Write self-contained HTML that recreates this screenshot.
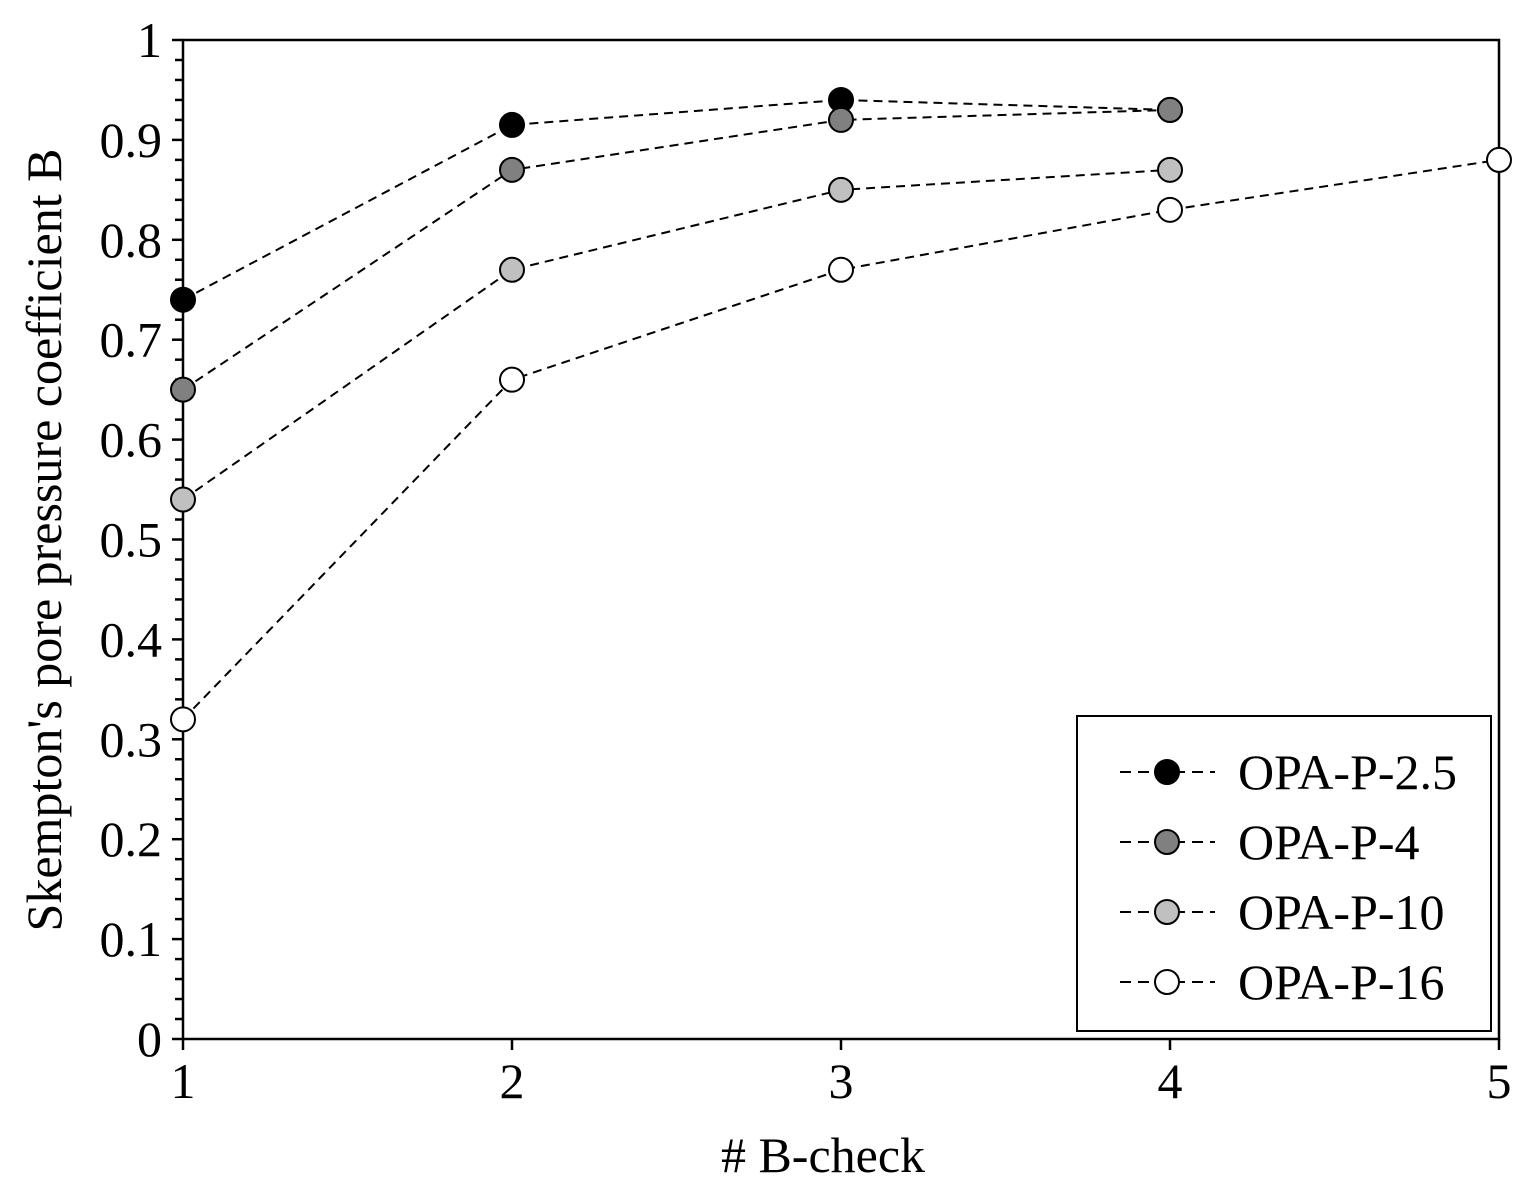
<!DOCTYPE html>
<html><head><meta charset="utf-8"><style>
body{margin:0;background:#fff}
svg text{font-family:"Liberation Serif",serif;fill:#000}
</style></head><body>
<svg id="c" width="1532" height="1195" xmlns="http://www.w3.org/2000/svg"></svg>
<script>
const xCats=[1,2,3,4,5];
const yTicks=[0,0.1,0.2,0.3,0.4,0.5,0.6,0.7,0.8,0.9,1];
const yTickLabels=["0","0.1","0.2","0.3","0.4","0.5","0.6","0.7","0.8","0.9","1"];
const seriesNames=["OPA-P-2.5","OPA-P-4","OPA-P-10","OPA-P-16"];
const s25x=[1,2,3,4], s25y=[0.74,0.915,0.94,0.93];
const s4x=[1,2,3,4], s4y=[0.65,0.87,0.92,0.93];
const s10x=[1,2,3,4], s10y=[0.54,0.77,0.85,0.87];
const s16x=[1,2,3,4,5], s16y=[0.32,0.66,0.77,0.83,0.88];
const fills=["#000","#808080","#c0c0c0","#fff"];
const X=v=>183+(v-1)*329, Y=v=>1039-v*999;
const svg=document.getElementById('c');
const NS="http://www.w3.org/2000/svg";
function mk(t,a,p){const e=document.createElementNS(NS,t);for(const k in a)e.setAttribute(k,a[k]);(p||svg).appendChild(e);return e;}
const fr=mk('rect',{x:183,y:40,width:1316,height:999,fill:'none',stroke:'#000','stroke-width':2.5});


for(let i=0;i<=50;i++){const v=i*0.02;const major=i%5===0;
 const t=mk('line',{x1:major?172:175,x2:183,y1:Y(v),y2:Y(v),stroke:'#000','stroke-width':2.5});
 
 }
yTicks.forEach((v,i)=>{const t=mk('text',{x:162,y:Y(v)+17,'font-size':50,'text-anchor':'end'});t.textContent=yTickLabels[i];
 
 });
xCats.forEach(v=>{const l=mk('line',{x1:X(v),x2:X(v),y1:1039,y2:1050,stroke:'#000','stroke-width':2.5});
 
 
 const t=mk('text',{x:X(v),y:1098,'font-size':50,'text-anchor':'middle'});t.textContent=v;
 
 });
const xt=mk('text',{x:823,y:1172,'font-size':50,'text-anchor':'middle'});xt.textContent='# B-check';


const yt=mk('text',{x:0,y:0,'font-size':50,'text-anchor':'middle',transform:'translate(61,540) rotate(-90)'});yt.textContent="Skempton's pore pressure coefficient B";


const all=[[s25x,s25y],[s4x,s4y],[s10x,s10y],[s16x,s16y]];
all.forEach(([xs,ys],si)=>{
 const g=mk('g',{});
 
 
 const pl=mk('polyline',{points:xs.map((x,i)=>X(x)+','+Y(ys[i])).join(' '),fill:'none',stroke:'#000','stroke-width':2,'stroke-dasharray':'9,6'},g);
 
 
 xs.forEach((x,i)=>{const c=mk('circle',{cx:X(x),cy:Y(ys[i]),r:12,fill:fills[si],stroke:'#000','stroke-width':2},g);
  
  });
});
const lg=mk('g',{});


mk('rect',{x:1077,y:716,width:414,height:315,fill:'#fff',stroke:'#000','stroke-width':2},lg);
seriesNames.forEach((n,i)=>{const y=772+i*70;
 const e=mk('g',{},lg);
 
 
 mk('line',{x1:1120,x2:1215,y1:y,y2:y,stroke:'#000','stroke-width':2,'stroke-dasharray':'11,7'},e);
 mk('circle',{cx:1167,cy:y,r:12,fill:fills[i],stroke:'#000','stroke-width':2},e);
 const t=mk('text',{x:1238,y:y+17,'font-size':50},e);t.textContent=n;});
</script>
</body></html>
